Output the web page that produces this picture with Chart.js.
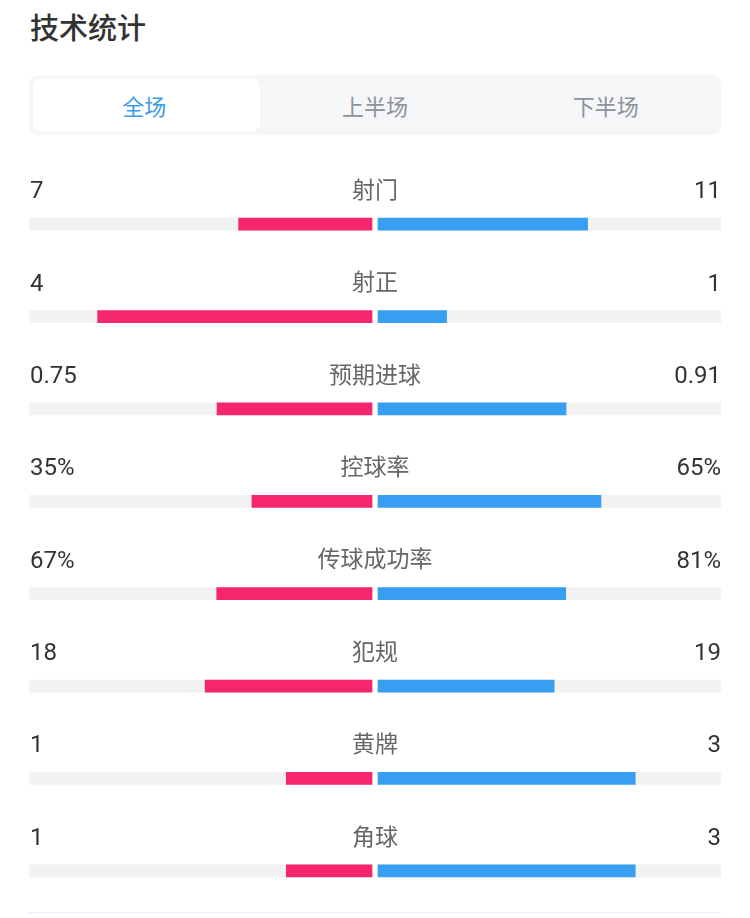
<!DOCTYPE html>
<html lang="zh-CN">
<head>
<meta charset="utf-8">
<title>技术统计</title>
<script src="https://cdn.jsdelivr.net/npm/chart.js@4/dist/chart.umd.min.js"></script>
<style>
  html, body { margin: 0; padding: 0; background: #fff; }
  body { width: 750px; height: 918px; position: relative; overflow: hidden;
         font-family: "Noto Sans CJK SC", "Noto Sans", sans-serif; }
  .title { position: absolute; left: 30px; top: 6px; font-size: 29px; font-weight: 500;
           color: #333; line-height: 40px; }
  .tabs { position: absolute; left: 29px; top: 75px; width: 692px; height: 60px;
          background: #f5f6f8; border-radius: 9px; display: flex; }
  .tab { flex: 1 1 0; position: relative; text-align: center; line-height: 60px;
         font-size: 22px; color: #8e929b; }
  .tab.active { color: #3a9be6; }
  .tab.active::before { content: ""; position: absolute; left: 4px; right: 0; top: 4px; bottom: 4px;
                        background: #fff; border-radius: 7px; z-index: 0; }
  .tab span { position: relative; z-index: 1; }
  .chart-box { position: absolute; left: 0; top: 150px; width: 750px; height: 768px; }
  .bottom-line { position: absolute; left: 29px; top: 912px; width: 692px; height: 1px;
                 background: #ededed; }
</style>
</head>
<body>
<div class="title">技术统计</div>
<div class="tabs">
  <div class="tab active"><span>全场</span></div>
  <div class="tab"><span>上半场</span></div>
  <div class="tab"><span>下半场</span></div>
</div>
<div class="chart-box"><canvas id="stats" width="750" height="768"></canvas></div>
<div class="bottom-line"></div>

<script>
// data
const categories = ["射门", "射正", "预期进球", "控球率", "传球成功率", "犯规", "黄牌", "角球"];
const homeValues = [7, 4, 0.75, 35, 67, 18, 1, 1];
const awayValues = [11, 1, 0.91, 65, 81, 19, 3, 3];
const homeLabels = ["7", "4", "0.75", "35%", "67%", "18", "1", "1"];
const awayLabels = ["11", "1", "0.91", "65%", "81%", "19", "3", "3"];

const homeColor = "#f5256e";
const awayColor = "#379ef2";
const trackColor = "#f2f2f2";

// small gap left and right of the middle (in axis units, 3px of 346px)
const gap = 3 / 346;

const homeBars = homeValues.map((v, i) => {
  const share = v / (v + awayValues[i]);
  return [-gap - share * (1 - gap), -gap];
});
const awayBars = awayValues.map((v, i) => {
  const share = v / (homeValues[i] + v);
  return [gap, gap + share * (1 - gap)];
});
const trackLeft = categories.map(() => [-1, -gap]);
const trackRight = categories.map(() => [gap, 1]);

// texts above every bar
const rowTextPlugin = {
  id: "rowText",
  afterDatasetsDraw(chart) {
    const { ctx, chartArea, scales } = chart;
    ctx.save();
    ctx.textBaseline = "middle";
    categories.forEach((cat, i) => {
      const y = scales.y.getPixelForValue(i) - 34;
      ctx.font = '24px Roboto, "Noto Sans CJK SC", sans-serif';
      ctx.fillStyle = "#333";
      ctx.textAlign = "left";
      ctx.fillText(homeLabels[i], chartArea.left + 1, y + 2);
      ctx.textAlign = "right";
      ctx.fillText(awayLabels[i], chartArea.right, y + 2);
      ctx.font = '23px "Noto Sans CJK SC", sans-serif';
      ctx.fillStyle = "#666";
      ctx.textAlign = "center";
      ctx.fillText(cat, scales.x.getPixelForValue(0), y - 1);
    });
    ctx.restore();
  },
};

const barDefaults = { barThickness: 12, grouped: false, borderWidth: 0 };

new Chart(document.getElementById("stats"), {
  type: "bar",
  data: {
    labels: categories,
    datasets: [
      { ...barDefaults, label: "主队", data: homeBars, backgroundColor: homeColor, order: 0 },
      { ...barDefaults, label: "客队", data: awayBars, backgroundColor: awayColor, order: 0 },
      { ...barDefaults, label: "track-l", data: trackLeft, backgroundColor: trackColor, order: 1 },
      { ...barDefaults, label: "track-r", data: trackRight, backgroundColor: trackColor, order: 1 },
    ],
  },
  options: {
    indexAxis: "y",
    responsive: false,
    animation: false,
    layout: { padding: { left: 29, right: 29, top: 28, bottom: 1 } },
    scales: {
      x: { display: false, min: -1, max: 1 },
      y: { display: false },
    },
    plugins: {
      legend: { display: false },
      tooltip: { enabled: false },
    },
  },
  plugins: [rowTextPlugin],
});
</script>
</body>
</html>
